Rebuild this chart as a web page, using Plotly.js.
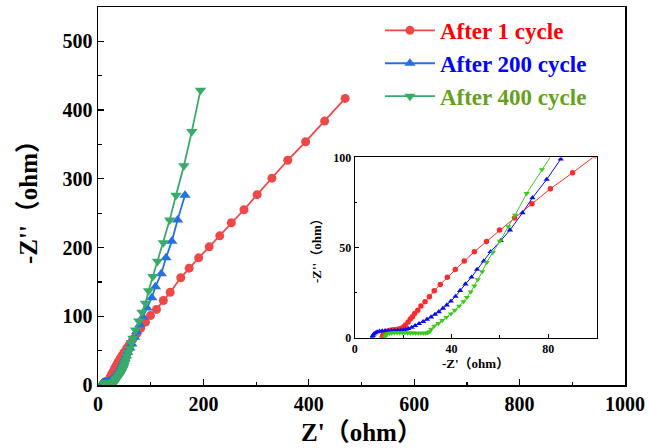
<!DOCTYPE html>
<html>
<head>
<meta charset="utf-8">
<script src="https://cdn.plot.ly/plotly-3.0.1.min.js"></script>
<style>html,body{margin:0;padding:0;background:#fff}#chart{width:650px;height:448px}</style>
</head>
<body>
<div id="chart"></div>
<script>
// After 1 cycle
const x1 = [11.4, 11.7, 12.2, 12.9, 13.8, 14.8, 15.9, 17.0, 18.0, 18.9, 19.6, 20.2, 21.0, 22.1, 23.0, 23.9, 24.8, 26.1, 27.4, 29.1, 30.9, 32.9, 35.4, 38.3, 41.6, 45.3, 49.5, 54.5, 59.9, 66.1, 73.3, 80.9, 90.1, 99.5, 111, 124, 137, 157, 173, 191, 211, 231, 253, 277, 302, 330, 360, 394, 430, 469];
const y1 = [0.3, 1.4, 2.4, 3.2, 3.8, 4.2, 4.4, 4.5, 4.7, 5.0, 5.4, 6.0, 7.0, 8.7, 10.4, 11.6, 13.5, 15.3, 17.6, 20.0, 22.7, 26.1, 29.6, 33.5, 37.9, 42.5, 47.7, 53.4, 59.7, 66.4, 74.3, 82.6, 91.5, 101, 110, 123, 135, 156, 170, 185, 201, 217, 236, 255, 277, 301, 327, 354, 384, 417];
// After 200 cycle
const x200 = [7.3, 7.5, 7.9, 8.5, 9.3, 10.3, 11.4, 12.6, 13.9, 15.2, 16.5, 17.8, 19.0, 20.2, 21.2, 22.2, 23.6, 25.0, 26.6, 28.3, 29.9, 31.6, 33.2, 34.8, 36.5, 38.1, 39.8, 41.7, 43.6, 45.8, 48.3, 50.6, 53.4, 56.2, 60.4, 64.2, 69.4, 73.5, 79.4, 85.2, 93, 102, 109, 120, 129, 140, 151, 165];
const y200 = [0.3, 1.2, 2.0, 2.7, 3.2, 3.6, 3.8, 3.9, 3.9, 3.9, 3.9, 4.0, 4.1, 4.3, 4.6, 5.0, 5.7, 6.7, 7.8, 8.9, 10.2, 11.5, 12.9, 14.4, 16.3, 18.1, 20.3, 22.9, 26.2, 29.8, 33.6, 37.9, 42.5, 47.7, 53.8, 59.7, 69.3, 77.6, 87.8, 99.1, 112, 127, 143, 162, 185, 209, 240, 276];
// After 400 cycle
const x400 = [12.5, 12.8, 13.4, 14.3, 15.3, 16.4, 17.5, 18.6, 19.7, 20.8, 21.9, 23.0, 24.1, 25.2, 26.3, 27.4, 28.4, 29.4, 30.2, 31.0, 31.6, 32.9, 34.6, 36.2, 37.9, 39.8, 41.4, 43.2, 45.0, 46.4, 48.0, 49.5, 50.9, 52.7, 54.6, 57.1, 60.1, 63.5, 66.3, 71.1, 77.4, 83.5, 90, 96, 104, 113, 124, 136, 148, 163, 178, 194.5];
const y400 = [0.4, 1.4, 2.1, 2.5, 2.7, 2.8, 2.8, 2.8, 2.8, 2.8, 2.7, 2.7, 2.7, 2.6, 2.6, 2.6, 2.6, 2.6, 2.8, 3.4, 4.8, 6.5, 7.9, 9.6, 11.3, 13.3, 15.3, 17.6, 20.0, 22.4, 25.5, 28.7, 32.3, 36.6, 41.8, 47.3, 53.6, 61.6, 68.0, 80.0, 93.3, 106, 119, 137, 158, 180, 207, 240, 276, 319, 369, 429];

const names = ['After 1 cycle', 'After 200 cycle', 'After 400 cycle'];
const textColors = ['#ff0000', '#0000ff', '#66a11e'];
const mainColors = ['#f04848', '#2472e0', '#3aaa6a'];
const insetColors = ['#ff2a2a', '#0a0af0', '#3cc81e'];
const symbols = ['circle', 'triangle-up', 'triangle-down'];
const xs = [x1, x200, x400];
const ys = [y1, y200, y400];

const FONT = 'Liberation Serif, "Times New Roman", "Noto Sans CJK SC", serif';

const traces = [];
for (let i = 0; i < 3; i++) {
  traces.push({
    x: xs[i], y: ys[i], type: 'scatter', mode: 'lines+markers',
    name: '<span style="color:' + textColors[i] + '">' + names[i] + '</span>',
    line: {color: mainColors[i], width: 1.8},
    marker: {color: mainColors[i], symbol: symbols[i], size: i === 0 ? 9 : 10},
    xaxis: 'x', yaxis: 'y'
  });
}
for (let i = 0; i < 3; i++) {
  traces.push({
    x: xs[i], y: ys[i], type: 'scatter', mode: 'lines+markers',
    name: names[i], showlegend: false,
    line: {color: insetColors[i], width: 1},
    marker: {color: insetColors[i], symbol: symbols[i], size: 5.5},
    xaxis: 'x2', yaxis: 'y2'
  });
}

const layout = {
  width: 650, height: 448,
  margin: {l: 98, r: 25, t: 7, b: 63},
  paper_bgcolor: '#fff', plot_bgcolor: '#fff',
  font: {family: FONT, color: '#000', weight: 'bold'},
  showlegend: true,
  legend: {
    x: 0.535, y: 0.995, xanchor: 'left', yanchor: 'top',
    bgcolor: 'rgba(0,0,0,0)', itemwidth: 50,
    font: {family: FONT, size: 23, weight: 'bold'}
  },
  xaxis: {
    domain: [0, 1], range: [0, 1000], dtick: 200,
    showline: true, linecolor: '#000', linewidth: 1.5, mirror: true,
    ticks: 'inside', ticklen: 6, tickwidth: 1.2, tickcolor: '#000',
    minor: {dtick: 100, ticks: 'inside', ticklen: 3.5, tickcolor: '#000'},
    showgrid: false, zeroline: false,
    tickfont: {family: FONT, size: 20, weight: 'bold'},
    title: {text: "Z'（ohm）", font: {family: FONT, size: 25, weight: 'bold'}, standoff: 10}
  },
  yaxis: {
    domain: [0, 1], range: [0, 550], dtick: 100,
    showline: true, linecolor: '#000', linewidth: 1.5, mirror: true,
    ticks: 'inside', ticklen: 6, tickwidth: 1.2, tickcolor: '#000',
    minor: {dtick: 50, ticks: 'inside', ticklen: 3.5, tickcolor: '#000'},
    showgrid: false, zeroline: false,
    tickfont: {family: FONT, size: 20, weight: 'bold'},
    title: {text: "-Z''（ohm）", font: {family: FONT, size: 25, weight: 'bold'}, standoff: 18}
  },
  xaxis2: {
    domain: [0.487, 0.946], anchor: 'y2', range: [0, 100], dtick: 40,
    showline: true, linecolor: '#000', linewidth: 1, mirror: true,
    ticks: 'inside', ticklen: 4, tickcolor: '#000',
    minor: {dtick: 20, ticks: 'inside', ticklen: 2.5, tickcolor: '#000'},
    showgrid: false, zeroline: false,
    tickfont: {family: FONT, size: 12, weight: 'bold'},
    title: {text: "-Z'（ohm）", font: {family: FONT, size: 13, weight: 'bold'}, standoff: 3}
  },
  yaxis2: {
    domain: [0.125, 0.602], anchor: 'x2', range: [0, 100], dtick: 50,
    showline: true, linecolor: '#000', linewidth: 1, mirror: true,
    ticks: 'inside', ticklen: 4, tickcolor: '#000',
    minor: {dtick: 25, ticks: 'inside', ticklen: 2.5, tickcolor: '#000'},
    showgrid: false, zeroline: false,
    tickfont: {family: FONT, size: 12, weight: 'bold'},
    title: {text: "-Z''（ohm）", font: {family: FONT, size: 13, weight: 'bold'}, standoff: 8}
  }
};

Plotly.newPlot('chart', traces, layout, {displayModeBar: false, staticPlot: true});
</script>
</body>
</html>
